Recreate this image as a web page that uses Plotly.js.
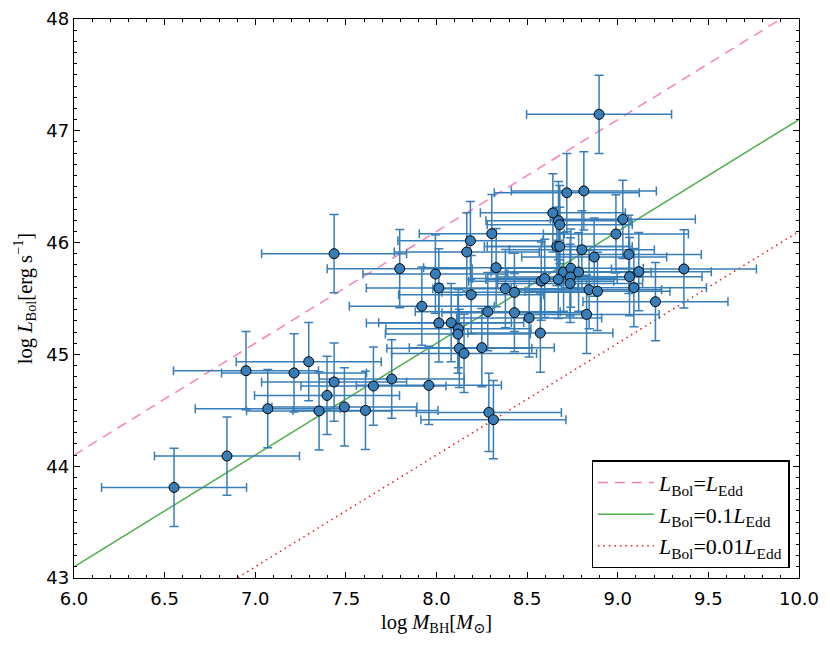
<!DOCTYPE html>
<html>
<head>
<meta charset="utf-8">
<script src="https://cdn.plot.ly/plotly-3.0.1.min.js"></script>
<style>
  html, body { margin: 0; padding: 0; background: #fff; }
  #chart { width: 830px; height: 645px; }
</style>
</head>
<body>
<div id="chart"></div>
<script>
// log M_BH values of the sample
const logMBH = [
  6.552, 6.844, 6.949, 7.069, 7.214, 7.295, 7.352, 7.396, 7.435, 7.492,
  7.608, 7.652, 7.753, 7.958, 7.919, 7.994, 8.013, 7.797, 7.435, 8.187,
  8.167, 8.305, 8.329, 8.191, 8.013, 8.081, 8.121, 8.118, 8.126, 8.152,
  8.250, 8.283, 8.380, 8.430, 8.430, 8.511, 8.573, 8.289, 8.314, 8.642,
  8.673, 8.680, 8.664, 8.680, 8.802, 8.870, 8.701, 8.741, 8.784, 8.738,
  8.737, 8.672, 8.578, 8.597, 8.842, 8.888, 8.828, 8.719, 8.813, 8.897,
  9.028, 8.990, 9.061, 9.116, 9.065, 9.089, 9.365, 9.208
];
// log L_Bol values of the sample
const logLBol = [
  43.810, 44.091, 44.854, 44.514, 44.834, 44.935, 44.494, 44.633, 44.753, 44.530,
  44.499, 44.717, 44.780, 44.723, 45.431, 45.719, 45.594, 45.767, 45.901, 46.017,
  45.916, 46.080, 45.776, 45.534, 45.281, 45.284, 45.230, 45.182, 45.054, 45.009,
  45.060, 45.382, 45.588, 45.555, 45.373, 45.326, 45.191, 44.481, 44.416, 46.266,
  46.196, 46.160, 45.966, 45.966, 45.936, 45.871, 45.737, 45.771, 45.737, 45.693,
  45.635, 45.671, 45.655, 45.679, 45.579, 45.564, 45.358, 46.446, 46.462, 47.147,
  46.208, 46.077, 45.894, 45.740, 45.695, 45.597, 45.764, 45.471
];
const errMBH = 0.4;   // dex
const errLBol = 0.35; // dex

// Eddington-ratio reference lines: log L = log M + offset
const lineX = [6.0, 10.0];
const eddOffset = 38.1;        // L_Bol = L_Edd
const ratios = [1, 0.1, 0.01];
const lineNames = [
  '<i>L</i><sub>Bol</sub>=<i>L</i><sub>Edd</sub>',
  '<i>L</i><sub>Bol</sub>=0.1<i>L</i><sub>Edd</sub>',
  '<i>L</i><sub>Bol</sub>=0.01<i>L</i><sub>Edd</sub>'
];
const lineColors = ['#f781bf', '#4daf4a', '#e41a1c'];
const lineDash = ['10px,7px', 'solid', '1.5px,4px'];

const xTickVals = [6.0, 6.5, 7.0, 7.5, 8.0, 8.5, 9.0, 9.5, 10.0];
const yTickVals = [43, 44, 45, 46, 47, 48];

const traces = [];
ratios.forEach((r, i) => {
  traces.push({
    type: 'scatter', mode: 'lines',
    x: lineX,
    y: lineX.map(v => v + eddOffset + Math.log10(r)),
    name: lineNames[i],
    line: { color: lineColors[i], width: 1.5, dash: lineDash[i] },
    hoverinfo: 'skip'
  });
});

traces.push({
  type: 'scatter', mode: 'markers',
  x: logMBH, y: logLBol,
  showlegend: false,
  marker: { size: 10, color: '#377eb8', line: { color: '#000', width: 1 } },
  error_x: { type: 'constant', value: errMBH, color: '#377eb8', thickness: 1.5, width: 4.5 },
  error_y: { type: 'constant', value: errLBol, color: '#377eb8', thickness: 1.5, width: 4.5 }
});

const tickFont = { family: 'DejaVu Sans, sans-serif', size: 18, color: '#000' };
const serif = 'Liberation Serif, DejaVu Serif, serif';

const layout = {
  width: 830, height: 645,
  margin: { l: 74, r: 31.3, t: 19.3, b: 66.7, pad: 0 },
  paper_bgcolor: '#fff', plot_bgcolor: '#fff',
  showlegend: true,
  legend: {
    x: 0.987, y: 0.017, xanchor: 'right', yanchor: 'bottom',
    bgcolor: '#fff', bordercolor: '#000', borderwidth: 1.3,
    font: { family: serif, size: 22, color: '#000' },
    itemwidth: 56,
    tracegroupgap: 0
  },
  xaxis: {
    range: [6, 10], tickvals: xTickVals, ticktext: xTickVals.map(v => v.toFixed(1)),
    ticks: 'inside', ticklen: 6, tickwidth: 1, tickcolor: '#000',
    minor: { dtick: 0.1, ticks: 'inside', ticklen: 3, tickwidth: 1, tickcolor: '#000' },
    showline: true, linecolor: '#000', linewidth: 1.3, mirror: 'allticks',
    showgrid: false, zeroline: false, tickfont: tickFont, ticklabelstandoff: 4,
    title: { text: 'log <i>M</i><sub>BH</sub>[<i>M</i><sub>⊙</sub>]', font: { family: serif, size: 20.5, color: '#000' }, standoff: 6 }
  },
  yaxis: {
    range: [43, 48], tickvals: yTickVals, ticktext: yTickVals.map(String),
    ticks: 'inside', ticklen: 6, tickwidth: 1, tickcolor: '#000',
    minor: { dtick: 0.1, ticks: 'inside', ticklen: 3, tickwidth: 1, tickcolor: '#000' },
    showline: true, linecolor: '#000', linewidth: 1.3, mirror: 'allticks',
    showgrid: false, zeroline: false, tickfont: tickFont,
    title: { text: 'log <i>L</i><sub>Bol</sub>[erg s<sup>−1</sup>]', font: { family: serif, size: 20.5, color: '#000' }, standoff: 8 }
  }
};

Plotly.newPlot('chart', traces, layout, { displayModeBar: false, staticPlot: true });
</script>
</body>
</html>
